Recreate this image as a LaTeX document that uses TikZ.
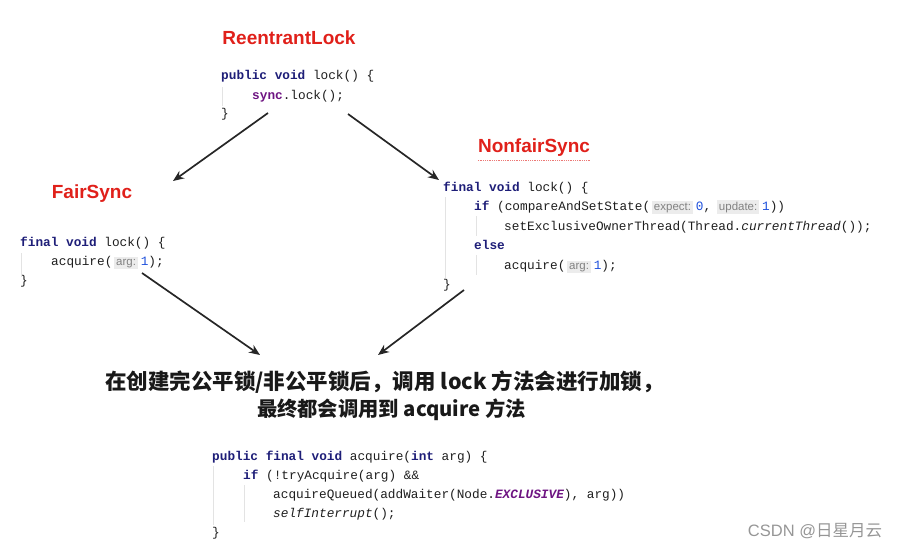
\documentclass[tikz,border=0pt]{standalone}
\usepackage{fontspec}
\setmainfont{Liberation Sans}
\newfontfamily\codefont{Liberation Mono}
\newfontfamily\hintfont{Liberation Sans}
\newfontfamily\cjk{Noto Sans CJK SC}
\usepackage{tikz}
\usetikzlibrary{arrows.meta}
\usetikzlibrary{positioning}
\definecolor{titlered}{RGB}{224,32,26}
\definecolor{kwblue}{RGB}{30,30,120}
\definecolor{numblue}{RGB}{30,80,220}
\definecolor{fldpurple}{RGB}{110,20,130}
\definecolor{codetext}{RGB}{30,30,30}
\definecolor{hintbg}{RGB}{236,236,236}
\definecolor{hintfg}{RGB}{130,130,130}
\definecolor{markgray}{RGB}{150,150,150}

\newcommand{\kw}[1]{\textcolor{kwblue}{\bfseries #1}}
\newcommand{\jnum}[1]{\textcolor{numblue}{#1}}
\newcommand{\fld}[1]{\textcolor{fldpurple}{\bfseries #1}}
\newcommand{\hint}[1]{\hspace{2pt}{\setlength{\fboxsep}{1.8pt}\colorbox{hintbg}{\hintfont\fontsize{11.5}{11.5}\selectfont\textcolor{hintfg}{#1}}}\hspace{3pt}}

\tikzset{
  title/.style={font=\bfseries\fontsize{19}{19}\selectfont, text=titlered, inner sep=0pt},
  code/.style={anchor=base west, inner sep=0pt, text=codetext,
               font=\codefont\fontsize{12.75}{12.75}\selectfont},
  guide/.style={draw=gray!22, line width=0.6pt},
  link/.style={-{Stealth[length=11pt,width=9pt]}, line width=1.7pt, black!85},
  msg/.style={font=\cjk\bfseries\fontsize{#1}{#1}\selectfont, inner sep=0pt, text=black!90},
}

\begin{document}
\begin{tikzpicture}[x=1pt, y=-1pt]
\useasboundingbox (0,0) rectangle (900,549);

%---------------------------------------
% ReentrantLock
%---------------------------------------
\node[title] (reTitle) at (289,38) {ReentrantLock};
\node[code] (re1) at (221,79) {\kw{public} \kw{void} lock() \{};
\node[code] (re2) at (252,99) {\fld{sync}.lock();};
\node[code] (re3) at (221,117) {\}};
\draw[guide] (222.5,87) -- (222.5,106);

%---------------------------------------
% FairSync
%---------------------------------------
\node[title] (fsTitle) at (92,194) {FairSync};
\node[code] (fs1) at (20,246) {\kw{final} \kw{void} lock() \{};
\node[code] (fs2) at (51,265) {acquire(\hint{arg:}\jnum{1});};
\node[code] (fs3) at (20,284) {\}};
\draw[guide] (21.5,253) -- (21.5,277);

%---------------------------------------
% NonfairSync
%---------------------------------------
\node[title] (nfTitle) at (534,148) {NonfairSync};
\draw[titlered!60, densely dotted, line width=0.8pt]
  (nfTitle.south west) ++(0,3) -- ++(112,0);
\node[code] (nf1) at (443,191) {\kw{final} \kw{void} lock() \{};
\node[code] (nf2) at (474,210) {\kw{if} (compareAndSetState(\hint{expect:}\jnum{0},\hspace{4pt}\hint{update:}\jnum{1}))};
\node[code] (nf3) at (504,230) {setExclusiveOwnerThread(Thread.\textit{currentThread}());};
\node[code] (nf4) at (474,249) {\kw{else}};
\node[code] (nf5) at (504,269) {acquire(\hint{arg:}\jnum{1});};
\node[code] (nf6) at (443,288) {\}};
\draw[guide] (445.5,197) -- (445.5,278);
\draw[guide] (476.5,216) -- (476.5,236);
\draw[guide] (476.5,255) -- (476.5,275);

%---------------------------------------
% Message
%---------------------------------------
\node[msg=21.5] (msg1) at (384.5,382) {在创建完公平锁/非公平锁后，调用 lock 方法会进行加锁，};
\node[msg=20.3] (msg2) at (391.5,410) {最终都会调用到 acquire 方法};

%---------------------------------------
% acquire
%---------------------------------------
\node[code] (aq1) at (212,460) {\kw{public} \kw{final} \kw{void} acquire(\kw{int} arg) \{};
\node[code] (aq2) at (243,479) {\kw{if} (!tryAcquire(arg) \&\&};
\node[code] (aq3) at (273,498) {acquireQueued(addWaiter(Node.\textcolor{fldpurple}{\bfseries\itshape EXCLUSIVE}), arg))};
\node[code] (aq4) at (273,517) {\textit{selfInterrupt}();};
\node[code] (aq5) at (212,536) {\}};
\draw[guide] (213.5,466) -- (213.5,525);
\draw[guide] (244.5,485) -- (244.5,522);

%---------------------------------------
% Arrows
%---------------------------------------
\coordinate (a1s) at (268,113);
\coordinate (a1e) at (173,181);
\coordinate (a2s) at (348,114);
\coordinate (a2e) at (439,180);
\coordinate (a3s) at (142,273);
\coordinate (a3e) at (260,355);
\coordinate (a4s) at (464,290);
\coordinate (a4e) at (378,355);
\draw[link] (a1s) -- (a1e);
\draw[link] (a2s) -- (a2e);
\draw[link] (a3s) -- (a3e);
\draw[link] (a4s) -- (a4e);

% watermark
\node[font=\fontsize{16.5}{16.5}\selectfont, text=markgray, inner sep=0pt] (mark) at (815,531) {CSDN @{\cjk 日星月云}};

\end{tikzpicture}
\end{document}
